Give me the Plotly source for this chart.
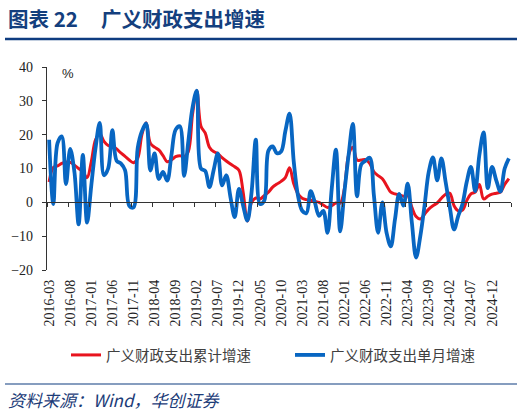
import pandas as pd
import plotly.graph_objects as go

# 月度数据：2016-03 至 2025-04
months = pd.date_range("2016-03", periods=110, freq="MS").strftime("%Y-%m").tolist()

cumulative = [
    6, 10.3, 10.8, 11.5, 11.9, 11.8, 11, 10, 9, 7.3,
    12, 18.5, 20.3, 18, 16.8, 16.5, 15.8, 14.6, 13.6, 12.5,
    11.7, 13, 20, 23.5, 17.5, 16.3, 15.5, 13.8, 12, 12.5,
    13.5, 13.8, 13.5, 15, 26, 33, 22.5, 20.5, 16.3, 15,
    14.4, 13.2, 12.2, 11.3, 10.5, 9.5, 3, -5.5, 0, 1.3,
    1, 2, 3, 4.5, 5.4, 6.2, 7.3, 10.2, 5.5, 2.5,
    1.2, 0.8, 0.6, 0.3, 0, -0.8, -1.5, -1, -0.2, -0.3,
    4, 14, 16.3, 12.5, 12.5, 12.6, 11.5, 9, 7.9, 7,
    5, 3, 2.5, 2.2, 1.8, 2, -1.5, -4.2, -4.9, -3.5,
    -2, -1, -0.2, 1.2, 2.4, 2.7, -1, -2.5, -2.3, 0.5,
    2.5, 3, 5.3, 1, 1.8, 2.4, 2.7, 3, 5.3, 7,
]

monthly = [
    18.5, -0.5, 17.5, 19.5, 5.4, 15.8, 9, -6.5, 14, -6,
    5, 16, 23.5, 8, 10, 21.3, 12.3, 11.5, 9.5, -1,
    -1.5, 16, 21, 23.3, 9.4, 14.5, 6.9, 9, 6.4, 14,
    21.5, 22.5, 7.8, 18, 28, 33, 10, 9.3, 4.5, 9.5,
    14.5, 5, 8, 1.5, -4.4, 4, -1, -5.4, 3, 18.5,
    -0.5, 0.5, 15.3, 16.5, 14.5, 15, 21, 26.2, 12, 2,
    -2.5, -3.2, 3.3, 0, -4, -2.5, -9, 4, 15.6, -8.6,
    3, 14, 23.2, 1.8, 11.2, 12.3, 13.2, 2, -9, 0,
    -9, -13, -5, 2.5, -1, 5.5, -6, -16.3, -10, -1,
    9, 13.3, 6.5, 13, 6, -1.5, -8, -4, -0.5, 6,
    10.5, 3.3, 14, 20.7, 4.2, 10.5, 6.5, 3.2, 10, 13,
]

y_ticks = [-20, -10, 0, 10, 20, 30, 40]

W, H = 524, 415
L, R, T, B = 47, 13, 67, 145


def px(x):
    return (x - L) / (W - L - R)


def py(y):
    return (H - B - y) / (H - T - B)


idx = list(range(len(months)))
tick_idx = idx[::5]
tick_text = months[::5]
boundary = [i - 0.5 for i in tick_idx] + [idx[-1] + 0.5]

serif = "Liberation Serif, Times New Roman, serif"
cjk = "Noto Sans CJK SC, sans-serif"
legend_font = dict(family=cjk, size=14.5, color="#404040")

fig = go.Figure()

fig.add_trace(go.Scatter(
    x=idx, y=cumulative, name="广义财政支出累计增速", legend="legend",
    mode="lines", line=dict(color="#E8141E", width=3, shape="spline"),
))
fig.add_trace(go.Scatter(
    x=idx, y=monthly, name="广义财政支出单月增速", legend="legend2",
    mode="lines", line=dict(color="#0866C2", width=3.8, shape="spline"),
))
# 0 轴的刻度线
fig.add_trace(go.Scatter(
    x=[None], y=[None], xaxis="x2", showlegend=False, hoverinfo="skip",
))

fig.update_layout(
    width=W, height=H,
    margin=dict(l=L, r=R, t=T, b=B, autoexpand=False),
    paper_bgcolor="white", plot_bgcolor="white",
    showlegend=True,
    xaxis=dict(
        range=[-0.5, idx[-1] + 0.5], automargin=False,
        tickmode="array", tickvals=tick_idx, ticktext=tick_text,
        tickangle=-90, ticks="", showline=False, showgrid=False, zeroline=False,
        ticklabelstandoff=6,
        tickfont=dict(family=serif, size=14, color="#222222"),
    ),
    xaxis2=dict(
        overlaying="x", anchor="free", position=1 / 3, side="bottom",
        range=[-0.5, idx[-1] + 0.5], automargin=False,
        tickmode="array", tickvals=boundary, showticklabels=False,
        ticks="outside", ticklen=4, tickcolor="#333333",
        showline=True, linecolor="#333333", linewidth=1.2,
        showgrid=False, zeroline=False,
    ),
    yaxis=dict(
        range=[-20, 40], tickmode="array", tickvals=y_ticks, automargin=False,
        showline=True, linecolor="#333333", linewidth=1.2,
        ticks="outside", ticklen=4, tickcolor="#333333",
        showgrid=False, zeroline=False, ticklabelstandoff=6,
        tickfont=dict(family=serif, size=14, color="#222222"),
    ),
    legend=dict(
        orientation="h", x=px(66), y=py(355), xanchor="left", yanchor="middle",
        font=legend_font, bgcolor="rgba(0,0,0,0)",
    ),
    legend2=dict(
        orientation="h", x=px(290), y=py(355), xanchor="left", yanchor="middle",
        font=legend_font, bgcolor="rgba(0,0,0,0)",
    ),
)

fig.add_annotation(
    text="%", xref="paper", yref="paper", x=px(60), y=py(74),
    xanchor="left", yanchor="middle", showarrow=False,
    font=dict(family="Liberation Sans, Arial, sans-serif", size=13, color="#222222"),
)

title_color = "#143F7E"
fig.add_annotation(
    text="<b>图表 22</b>", xref="paper", yref="paper", x=px(6), y=py(18),
    xanchor="left", yanchor="middle", showarrow=False,
    font=dict(family=cjk, size=20.5, color=title_color),
)
fig.add_annotation(
    text="<b>广义财政支出增速</b>", xref="paper", yref="paper", x=px(99), y=py(18),
    xanchor="left", yanchor="middle", showarrow=False,
    font=dict(family=cjk, size=20.5, color=title_color),
)
fig.add_annotation(
    text="<i>资料来源：Wind，华创证券</i>", xref="paper", yref="paper", x=px(6), y=py(399),
    xanchor="left", yanchor="middle", showarrow=False,
    font=dict(family=cjk, size=17, color="#1C3C78"),
)

fig.add_shape(type="line", xref="paper", yref="paper",
              x0=px(5), x1=px(517), y0=py(39), y1=py(39),
              line=dict(color="#0E3C80", width=2.5))
fig.add_shape(type="line", xref="paper", yref="paper",
              x0=px(5), x1=px(517), y0=py(384), y1=py(384),
              line=dict(color="#0E3C80", width=1.2))

# 去掉页面默认的 8px 边距
fig.write_html(
    "out.html",
    config={"displayModeBar": False},
    post_script="document.body.style.margin='0';",
)
